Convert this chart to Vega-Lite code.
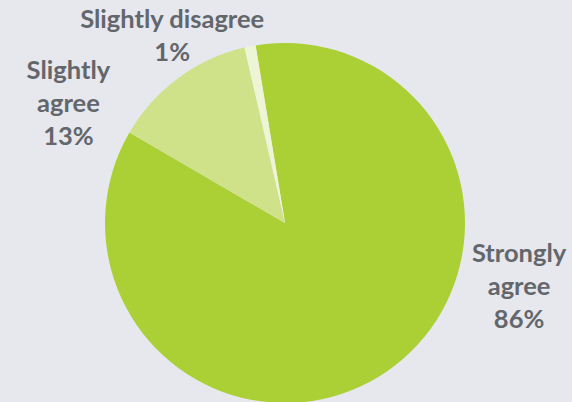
{
  "$schema": "https://vega.github.io/schema/vega-lite/v6.json",
  "autosize": "none",
  "width": 570,
  "height": 360,
  "padding": {"top": 43, "left": 0, "right": 2, "bottom": 0},
  "background": "#e6e8ed",
  "config": {"view": {"stroke": null}},
  "data": {
    "values": [
      {"category": "Strongly agree", "order": 1, "value": 86, "label": "Strongly\nagree\n86%"},
      {"category": "Slightly agree", "order": 2, "value": 13, "label": "Slightly\nagree\n13%"},
      {"category": "Slightly disagree", "order": 3, "value": 1, "label": "Slightly disagree\n1%"}
    ]
  },
  "layer": [
    {
      "mark": {"type": "arc", "outerRadius": 180},
      "encoding": {
        "theta": {"field": "value", "type": "quantitative", "stack": true, "scale": {"domain": [0, 100], "range": [-0.164, 6.119]}},
        "order": {"field": "order", "type": "quantitative"},
        "color": {
          "field": "category",
          "type": "nominal",
          "legend": null,
          "scale": {
            "domain": ["Strongly agree", "Slightly agree", "Slightly disagree"],
            "range": ["#abd036", "#cfe28a", "#edf5d6"]
          }
        }
      }
    },
    {
      "transform": [
        {"stack": "value", "groupby": [], "sort": [{"field": "order", "order": "ascending"}], "as": ["v0", "v1"]},
        {"calculate": "(datum.v0 + datum.v1) / 2", "as": "mid"}
      ],
      "layer": [
        {
          "transform": [{"filter": "datum.category === 'Strongly agree'"}],
          "mark": {"type": "text", "radius": 215, "dx": 112, "dy": -146, "align": "center", "baseline": "middle", "lineBreak": "\n", "lineHeight": 33, "font": "Lato", "fontWeight": "bold", "fontSize": 25.5, "fill": "#63666b"},
          "encoding": {
            "theta": {"field": "mid", "type": "quantitative", "stack": null, "scale": {"domain": [0, 100], "range": [-0.164, 6.119]}},
            "text": {"field": "label"}
          }
        },
        {
          "transform": [{"filter": "datum.category === 'Slightly agree'"}],
          "mark": {"type": "text", "radius": 215, "dx": -89, "dy": 21, "align": "center", "baseline": "middle", "lineBreak": "\n", "lineHeight": 33, "font": "Lato", "fontWeight": "bold", "fontSize": 25.5, "fill": "#63666b"},
          "encoding": {
            "theta": {"field": "mid", "type": "quantitative", "stack": null, "scale": {"domain": [0, 100], "range": [-0.164, 6.119]}},
            "text": {"field": "label"}
          }
        },
        {
          "transform": [{"filter": "datum.category === 'Slightly disagree'"}],
          "mark": {"type": "text", "radius": 215, "dx": -71, "dy": 8, "align": "center", "baseline": "middle", "lineBreak": "\n", "lineHeight": 33, "font": "Lato", "fontWeight": "bold", "fontSize": 25.5, "fill": "#63666b"},
          "encoding": {
            "theta": {"field": "mid", "type": "quantitative", "stack": null, "scale": {"domain": [0, 100], "range": [-0.164, 6.119]}},
            "text": {"field": "label"}
          }
        }
      ]
    }
  ]
}
